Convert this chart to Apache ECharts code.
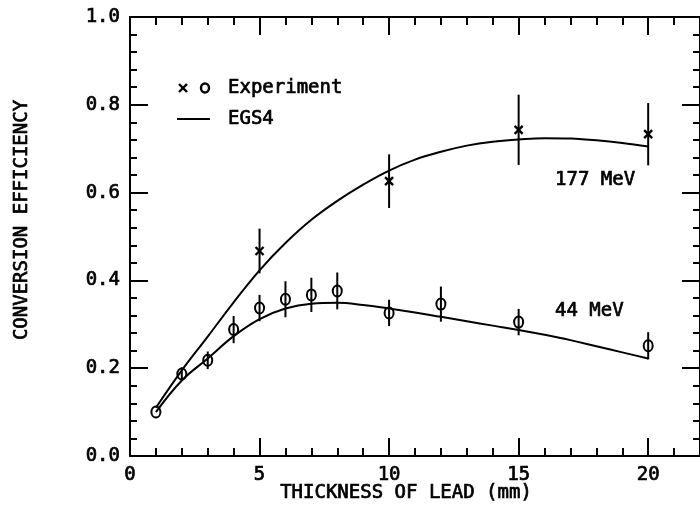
<!DOCTYPE html>
<html><head><meta charset="utf-8">
<script src="https://cdn.jsdelivr.net/npm/echarts@6/dist/echarts.min.js"></script>
<style>html,body{margin:0;padding:0;background:#fff}#c{width:700px;height:506px}</style>
</head><body><div id="c"></div>
<script>
// ---- data ----
const thicknessLow = [1, 2, 3, 4, 5, 6, 7, 8, 10, 12, 15, 20];
const effLow       = [0.100, 0.187, 0.218, 0.288, 0.337, 0.357, 0.367, 0.376, 0.326, 0.346, 0.305, 0.251];
const errLow       = [0, 0.015, 0.020, 0.031, 0.030, 0.041, 0.039, 0.042, 0.030, 0.040, 0.030, 0.031];
const thicknessHigh = [5, 10, 15, 20];
const effHigh       = [0.467, 0.626, 0.743, 0.733];
const errHigh       = [0.051, 0.061, 0.080, 0.071];
const curveX    = [1, 2, 3, 4, 5, 6, 7, 8, 9, 10, 11, 12, 13, 14, 15, 16, 17, 18, 19, 20];
const curveHigh = [0.110, 0.195, 0.272, 0.350, 0.423, 0.485, 0.538, 0.581, 0.618, 0.650, 0.675, 0.693, 0.707, 0.716, 0.721, 0.724, 0.723, 0.719, 0.713, 0.705];
const curveLow  = [0.100, 0.172, 0.222, 0.273, 0.312, 0.336, 0.347, 0.349, 0.344, 0.336, 0.327, 0.317, 0.307, 0.297, 0.287, 0.276, 0.264, 0.250, 0.236, 0.222];
const xTickLabels = ['0', '5', '10', '15', '20'];
const yTickLabels = ['0.0', '0.2', '0.4', '0.6', '0.8', '1.0'];
const labelHigh = '177 MeV';
const labelLow = '44 MeV';
const xTitle = 'THICKNESS OF LEAD (mm)';
const yTitle = 'CONVERSION EFFICIENCY';

const FONT = 'DejaVu Sans Mono';
const FS = 19;
const K = '#000';
const FSTR = FS + 'px "' + FONT + '"';
const TB = 0.7; // slight stroke to thicken plotter-like text

function xAxisDef(pos, major) {
  return {
    type: 'value', position: pos, min: 0, max: 22, interval: major ? 5 : 1,
    axisLine: { show: major, onZero: false, lineStyle: { color: K, width: 2 } },
    axisTick: { show: true, inside: true, length: major ? 18 : 8, lineStyle: { color: K, width: 2 } },
    splitLine: { show: false },
    axisLabel: {
      show: major && pos === 'bottom', color: K, fontFamily: FONT, fontSize: FS, margin: 10,
      textBorderColor: K, textBorderWidth: TB,
      showMaxLabel: false,
      formatter: v => { const i = xTickLabels.indexOf(String(v)); return i >= 0 ? xTickLabels[i] : ''; }
    }
  };
}
function yAxisDef(pos) {
  return {
    type: 'value', position: pos, min: 0, max: 1, interval: 0.2,
    axisLine: { show: true, onZero: false, lineStyle: { color: K, width: 2 } },
    axisTick: { show: true, inside: true, length: 18, lineStyle: { color: K, width: 2 } },
    minorTick: { show: true, splitNumber: 5, length: 7, lineStyle: { color: K, width: 2 } },
    splitLine: { show: false }, minorSplitLine: { show: false },
    axisLabel: {
      show: pos === 'left', color: K, fontFamily: FONT, fontSize: FS, margin: 10,
      textBorderColor: K, textBorderWidth: TB,
      formatter: v => yTickLabels[Math.round(v / 0.2)]
    }
  };
}

function pointRenderer(kind) {
  return function (params, api) {
    const x = api.value(0), y = api.value(1), e = api.value(2);
    const c = api.coord([x, y]);
    const t = api.coord([x, y + e]);
    const b = api.coord([x, y - e]);
    const st = { stroke: K, lineWidth: 2, fill: null };
    const ch = [];
    if (e > 0) ch.push({ type: 'line', shape: { x1: c[0], y1: t[1], x2: c[0], y2: b[1] }, style: st });
    if (kind === 'o') {
      ch.push({ type: 'ellipse', shape: { cx: c[0], cy: c[1], rx: 4.5, ry: 5.5 }, style: st });
    } else {
      const s = 4;
      ch.push({ type: 'line', shape: { x1: c[0] - s, y1: c[1] - s, x2: c[0] + s, y2: c[1] + s }, style: { stroke: K, lineWidth: 2.4 } });
      ch.push({ type: 'line', shape: { x1: c[0] - s, y1: c[1] + s, x2: c[0] + s, y2: c[1] - s }, style: { stroke: K, lineWidth: 2.4 } });
    }
    return { type: 'group', children: ch };
  };
}

function txt(x, y, text, align, rot) {
  return { type: 'text', x: x, y: y, rotation: rot || 0,
    style: { text: text, fill: K, stroke: K, lineWidth: TB, font: FSTR, align: align, verticalAlign: 'middle' } };
}

const chart = echarts.init(document.getElementById('c'), null, { renderer: 'canvas' });
chart.setOption({
  backgroundColor: '#fff',
  animation: false,
  grid: { left: 130, right: -4, top: 17, bottom: 50, containLabel: false },
  xAxis: [xAxisDef('bottom', true), xAxisDef('bottom', false), xAxisDef('top', true), xAxisDef('top', false)],
  yAxis: [yAxisDef('left'), yAxisDef('right')],
  series: [
    { type: 'line', smooth: 0.4, showSymbol: false, xAxisIndex: 0, yAxisIndex: 0,
      lineStyle: { color: K, width: 2 }, data: curveX.map((x, i) => [x, curveHigh[i]]) },
    { type: 'line', smooth: 0.4, showSymbol: false, xAxisIndex: 0, yAxisIndex: 0,
      lineStyle: { color: K, width: 2 }, data: curveX.map((x, i) => [x, curveLow[i]]) },
    { type: 'custom', xAxisIndex: 0, yAxisIndex: 0, renderItem: pointRenderer('o'),
      data: thicknessLow.map((x, i) => [x, effLow[i], errLow[i]]) },
    { type: 'custom', xAxisIndex: 0, yAxisIndex: 0, renderItem: pointRenderer('x'),
      data: thicknessHigh.map((x, i) => [x, effHigh[i], errHigh[i]]) }
  ],
  graphic: [
    txt(22, 220, yTitle, 'center', Math.PI / 2),
    txt(406, 493, xTitle, 'center'),
    txt(555, 180, labelHigh, 'left'),
    txt(555, 311, labelLow, 'left'),
    // legend
    { type: 'line', shape: { x1: 179, y1: 84, x2: 187, y2: 92 }, style: { stroke: K, lineWidth: 2.4 } },
    { type: 'line', shape: { x1: 179, y1: 92, x2: 187, y2: 84 }, style: { stroke: K, lineWidth: 2.4 } },
    { type: 'ellipse', shape: { cx: 205, cy: 88, rx: 4, ry: 4.5 }, style: { stroke: K, lineWidth: 2.4, fill: null } },
    txt(228, 88, 'Experiment', 'left'),
    { type: 'line', shape: { x1: 177, y1: 119, x2: 210, y2: 119 }, style: { stroke: K, lineWidth: 2 } },
    txt(228, 119, 'EGS4', 'left')
  ]
});
</script>
</body></html>
